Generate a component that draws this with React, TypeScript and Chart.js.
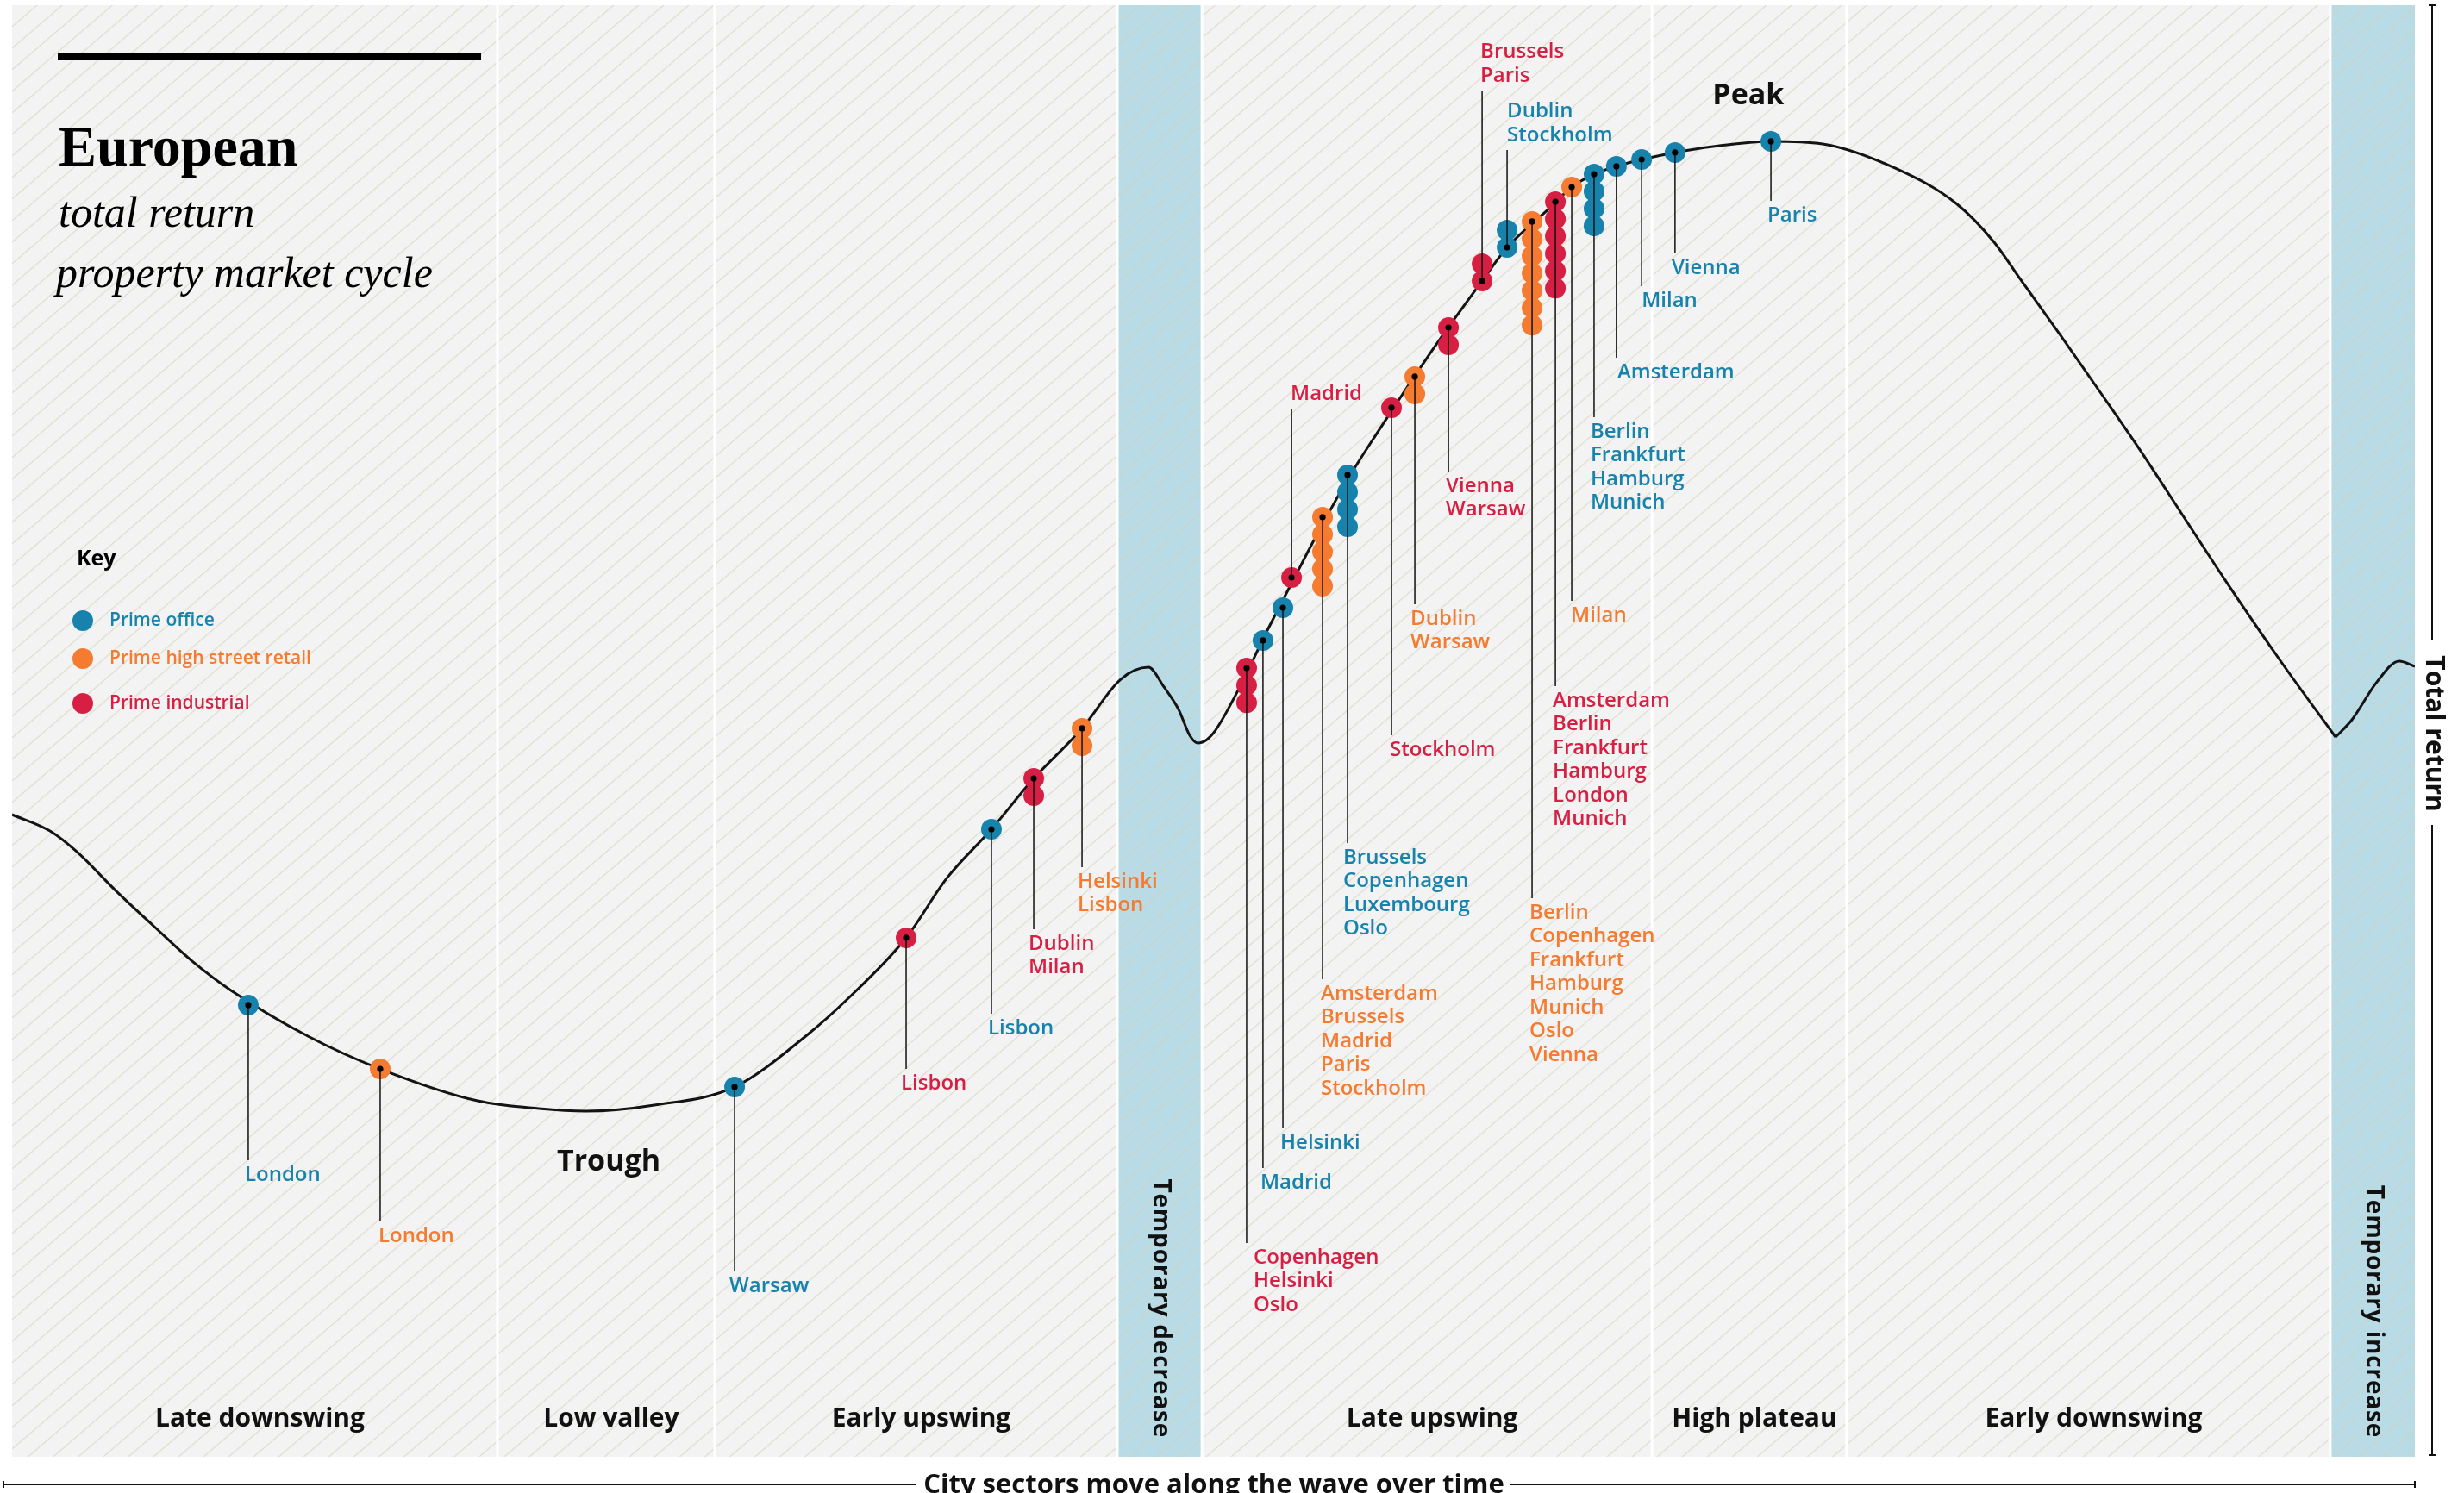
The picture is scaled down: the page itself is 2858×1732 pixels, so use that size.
import React, { useEffect, useRef } from 'react';
import { Chart, registerables } from 'chart.js';

Chart.register(...registerables);

// wave: x = time through the cycle (0-100), y = total return (0-100)
const CURVE_X = [
  0, 1.58, 2.69, 4.31, 5.92, 7.5, 9.11, 12.31, 15.32, 19.38, 21.92, 23.86, 26.73, 30.07, 33.12, 34.73,
  37.21, 38.9, 40.76, 42.52, 44.53, 46.14, 47.29, 47.94, 48.55, 49.01, 49.34, 49.73, 50.09, 51.17, 52.14,
  53.32, 54.5, 55.72, 56.91, 58.09, 59.31, 61.18, 62.22, 64.01, 64.91, 65.84, 66.77, 67.82, 69.21, 70.79,
  73.2, 75.35, 78.44, 80.91, 82.49, 83.53, 85.25, 86.98, 88.73, 90.46, 92.18, 94.44, 96.7,
];
const CURVE_Y = [
  44.24, 43.11, 41.69, 39.01, 36.52, 34.14, 32.13, 28.98, 26.72, 24.52, 23.99, 23.81, 24.23, 25.48, 29.1, 31.47,
  35.75, 39.85, 43.23, 46.73, 50.18, 53.56, 54.39, 53.03, 51.48, 49.7, 49.17, 49.41, 50.06, 53.27, 56.59,
  60.39, 64.13, 67.7, 70.78, 73.75, 76.72, 81.0, 83.31, 86.05, 87.47, 88.36, 88.9, 89.37, 89.85, 90.26,
  90.62, 90.44, 88.72, 86.34, 83.67, 81.24, 77.26, 73.16, 68.94, 64.55, 60.21, 54.75, 49.58,
];
// the temporary increase after the sharp turn at the end of the downswing
const TAIL_X = [96.7, 97.38, 98.42, 99.35, 100];
const TAIL_Y = [49.58, 50.77, 53.38, 54.81, 54.45];

const PHASES = [
  'Late downswing', 'Low valley', 'Early upswing', 'Temporary decrease',
  'Late upswing', 'High plateau', 'Early downswing', 'Temporary increase',
];
const PHASE_EDGES = [0, 20.2, 29.24, 46.0, 49.52, 68.25, 76.35, 96.48, 100];
const TEMPORARY = [false, false, false, true, false, false, false, true];

const MARKERS = ['Trough', 'Peak'];
const MARKER_X = [24.83, 72.26];
const MARKER_Y = [20.31, 93.76];

const SECTORS = ['Prime office', 'Prime high street retail', 'Prime industrial'];

const OFFICE_X = [9.83, 30.07, 40.76, 52.06, 52.89, 55.58, 62.22, 65.84, 66.77, 67.82, 69.21, 73.2];
const OFFICE_Y = [31.12, 25.48, 43.23, 56.24, 58.49, 67.64, 83.31, 88.36, 88.9, 89.37, 89.85, 90.62];
const OFFICE_CITIES = [
  ['London'], ['Warsaw'], ['Lisbon'], ['Madrid'], ['Helsinki'],
  ['Brussels', 'Copenhagen', 'Luxembourg', 'Oslo'], ['Dublin', 'Stockholm'],
  ['Berlin', 'Frankfurt', 'Hamburg', 'Munich'], ['Amsterdam'], ['Milan'], ['Vienna'], ['Paris'],
];

const RETAIL_X = [15.32, 44.53, 54.54, 58.38, 63.26, 64.91];
const RETAIL_Y = [26.72, 50.18, 64.73, 74.41, 85.1, 87.47];
const RETAIL_CITIES = [
  ['London'], ['Helsinki', 'Lisbon'], ['Amsterdam', 'Brussels', 'Madrid', 'Paris', 'Stockholm'],
  ['Dublin', 'Warsaw'], ['Berlin', 'Copenhagen', 'Frankfurt', 'Hamburg', 'Munich', 'Oslo', 'Vienna'], ['Milan'],
];

const INDUSTRIAL_X = [37.21, 42.52, 51.38, 53.25, 57.41, 59.78, 61.18, 64.23];
const INDUSTRIAL_Y = [35.75, 46.73, 54.33, 60.57, 72.27, 77.79, 81.0, 86.46];
const INDUSTRIAL_CITIES = [
  ['Lisbon'], ['Dublin', 'Milan'], ['Copenhagen', 'Helsinki', 'Oslo'], ['Madrid'], ['Stockholm'],
  ['Vienna', 'Warsaw'], ['Brussels', 'Paris'], ['Amsterdam', 'Berlin', 'Frankfurt', 'Hamburg', 'London', 'Munich'],
];

// label layout: leader length in px (negative = label above), text x shift in px
const OFFICE_LEADER = [180, 214, 214, 612, 604, 427, -113, 282, 222, 147, 117, 69];
const OFFICE_DX = [-4, -6, -4, -3, -3, -5, 0, -4, 1, 0, -4, -4];
const RETAIL_LEADER = [177, 161, 536, 264, 785, 480];
const RETAIL_DX = [-2, -5, -2, -5, -3, -1];
const INDUSTRIAL_LEADER = [152, 175, 667, -196, 380, 167, -221, 562];
const INDUSTRIAL_DX = [-6, -6, 8, -1, -2, -3, -2, -3];

const COLORS = ['#1783ad', '#f47b30', '#d71f43'];
const STACK_STEP = 1.19;
const FONT = '"Open Sans", "DejaVu Sans", sans-serif';
const SERIF = '"Liberation Serif", "DejaVu Serif", serif';

const GROUPS = [
  { xs: OFFICE_X, ys: OFFICE_Y, cities: OFFICE_CITIES, lead: OFFICE_LEADER, dx: OFFICE_DX },
  { xs: RETAIL_X, ys: RETAIL_Y, cities: RETAIL_CITIES, lead: RETAIL_LEADER, dx: RETAIL_DX },
  { xs: INDUSTRIAL_X, ys: INDUSTRIAL_Y, cities: INDUSTRIAL_CITIES, lead: INDUSTRIAL_LEADER, dx: INDUSTRIAL_DX },
];

const stackPoints = (g: typeof GROUPS[number]) =>
  g.xs.flatMap((x, i) =>
    g.cities[i].map((_, k) => ({ x, y: g.ys[i] - Math.sign(g.lead[i]) * k * STACK_STEP }))
  );

const cyclePlugin = {
  id: 'cycle',
  beforeDraw(chart: any) {
    const { ctx, chartArea: a, scales } = chart;
    const sx = scales.x;
    const sy = scales.y;
    ctx.save();
    ctx.fillStyle = '#ffffff';
    ctx.fillRect(0, 0, chart.width, chart.height);
    ctx.fillStyle = '#f3f3f3';
    ctx.fillRect(a.left, a.top, a.right - a.left, a.bottom - a.top);

    PHASES.forEach((_, i) => {
      if (!TEMPORARY[i]) return;
      const x0 = sx.getPixelForValue(PHASE_EDGES[i]);
      const x1 = sx.getPixelForValue(PHASE_EDGES[i + 1]);
      ctx.fillStyle = '#b8dbe6';
      ctx.fillRect(x0, a.top, x1 - x0, a.bottom - a.top);
    });

    // diagonal hatching
    ctx.save();
    ctx.beginPath();
    ctx.rect(a.left, a.top, a.right - a.left, a.bottom - a.top);
    ctx.clip();
    ctx.strokeStyle = 'rgba(214, 207, 184, 0.55)';
    ctx.lineWidth = 1.4;
    const w = a.right - a.left;
    const slope = 0.86;
    for (let c = a.top; c < a.bottom + w * slope; c += 25) {
      ctx.beginPath();
      ctx.moveTo(a.left, c);
      ctx.lineTo(a.right, c - w * slope);
      ctx.stroke();
    }
    ctx.restore();

    ctx.strokeStyle = '#ffffff';
    ctx.lineWidth = 3;
    for (let i = 1; i < PHASE_EDGES.length - 1; i++) {
      const x = sx.getPixelForValue(PHASE_EDGES[i]);
      ctx.beginPath();
      ctx.moveTo(x, a.top);
      ctx.lineTo(x, a.bottom);
      ctx.stroke();
    }

    // phase names
    ctx.fillStyle = '#111';
    PHASES.forEach((p, i) => {
      const x0 = sx.getPixelForValue(PHASE_EDGES[i]);
      const x1 = sx.getPixelForValue(PHASE_EDGES[i + 1]);
      if (TEMPORARY[i]) {
        ctx.save();
        ctx.translate((x0 + x1) / 2 + 1, a.bottom - 22);
        ctx.rotate(Math.PI / 2);
        ctx.font = `700 28px ${FONT}`;
        ctx.letterSpacing = '0.8px';
        ctx.textAlign = 'right';
        ctx.textBaseline = 'middle';
        ctx.fillText(p, 0, 0);
        ctx.restore();
      } else {
        ctx.font = `700 30px ${FONT}`;
        ctx.textAlign = 'center';
        ctx.textBaseline = 'middle';
        ctx.fillText(p, (x0 + x1) / 2 + 6, a.bottom - 44);
      }
    });

    ctx.font = `700 34px ${FONT}`;
    ctx.textAlign = 'center';
    ctx.textBaseline = 'middle';
    MARKERS.forEach((m, i) => {
      ctx.fillText(m, sx.getPixelForValue(MARKER_X[i]), sy.getPixelForValue(MARKER_Y[i]));
    });
    ctx.restore();
  },
  afterDatasetsDraw(chart: any) {
    const { ctx, scales } = chart;
    const sx = scales.x;
    const sy = scales.y;
    ctx.save();
    GROUPS.forEach((g, s) => {
      g.xs.forEach((xv, i) => {
        const px = sx.getPixelForValue(xv);
        const py = sy.getPixelForValue(g.ys[i]);
        const len = g.lead[i];
        const end = py + len;
        ctx.strokeStyle = '#111';
        ctx.lineWidth = 1.5;
        ctx.beginPath();
        ctx.moveTo(px, py);
        ctx.lineTo(px, end);
        ctx.stroke();
        ctx.fillStyle = '#000';
        ctx.beginPath();
        ctx.arc(px, py, 3.6, 0, Math.PI * 2);
        ctx.fill();

        const names = g.cities[i];
        ctx.fillStyle = COLORS[s];
        ctx.font = `600 24px ${FONT}`;
        ctx.textAlign = 'left';
        ctx.textBaseline = 'middle';
        names.forEach((n, k) => {
          const ty = len > 0 ? end + 17 + k * 27.5 : end - 17 - (names.length - 1 - k) * 27.5;
          ctx.fillText(n, px + g.dx[i], ty);
        });
      });
    });
    ctx.restore();
  },
  afterDraw(chart: any) {
    const { ctx, chartArea: a } = chart;
    ctx.save();
    // title block
    ctx.fillStyle = '#000';
    ctx.fillRect(67, 62, 491, 8);
    ctx.textAlign = 'left';
    ctx.textBaseline = 'alphabetic';
    ctx.font = `700 66px ${SERIF}`;
    ctx.fillText('European', 68, 192);
    ctx.font = `italic 400 50px ${SERIF}`;
    ctx.fillText('total return', 68, 263);
    ctx.fillText('property market cycle', 65, 333);

    // key
    ctx.font = `700 25px ${FONT}`;
    ctx.textBaseline = 'middle';
    ctx.fillText('Key', 89, 649);
    const keyY = [720, 764, 816];
    SECTORS.forEach((s, i) => {
      ctx.fillStyle = COLORS[i];
      ctx.beginPath();
      ctx.arc(96, keyY[i], 12, 0, Math.PI * 2);
      ctx.fill();
      ctx.font = `600 21px ${FONT}`;
      ctx.fillText(s, 127, keyY[i]);
    });

    // right axis: total return
    ctx.strokeStyle = '#111';
    ctx.fillStyle = '#111';
    ctx.lineWidth = 2;
    const ax = 2821;
    ctx.beginPath();
    ctx.moveTo(ax, a.top);
    ctx.lineTo(ax, 743);
    ctx.moveTo(ax, 957);
    ctx.lineTo(ax, a.bottom - 2);
    ctx.moveTo(ax - 4, a.top);
    ctx.lineTo(ax + 4, a.top);
    ctx.moveTo(ax - 4, a.bottom - 2);
    ctx.lineTo(ax + 4, a.bottom - 2);
    ctx.stroke();
    ctx.save();
    ctx.translate(ax + 2, 851);
    ctx.rotate(Math.PI / 2);
    ctx.font = `700 30px ${FONT}`;
    ctx.textAlign = 'center';
    ctx.textBaseline = 'middle';
    ctx.fillText('Total return', 0, 0);
    ctx.restore();

    // bottom axis: time
    const by = 1722;
    ctx.beginPath();
    ctx.moveTo(4, by);
    ctx.lineTo(1063, by);
    ctx.moveTo(1752, by);
    ctx.lineTo(a.right, by);
    ctx.moveTo(4, by - 4);
    ctx.lineTo(4, by + 4);
    ctx.moveTo(a.right, by - 4);
    ctx.lineTo(a.right, by + 4);
    ctx.stroke();
    ctx.font = `700 31px ${FONT}`;
    ctx.textAlign = 'center';
    ctx.textBaseline = 'alphabetic';
    ctx.fillText('City sectors move along the wave over time', 1408, 1732);
    ctx.restore();
  },
};

const curveStyle = {
  showLine: true,
  borderColor: '#141414',
  borderWidth: 3,
  pointRadius: 0,
  cubicInterpolationMode: 'monotone',
  fill: false,
  order: 5,
};

export default function App() {
  const canvasRef = useRef<HTMLCanvasElement>(null);
  const chartRef = useRef<Chart | null>(null);

  useEffect(() => {
    if (!canvasRef.current) return;
    if (chartRef.current) chartRef.current.destroy();

    const datasets: any[] = GROUPS.map((g, s) => ({
      label: SECTORS[s],
      data: stackPoints(g),
      pointRadius: 12,
      pointHoverRadius: 12,
      pointBackgroundColor: COLORS[s],
      pointBorderWidth: 0,
      showLine: false,
      order: 1,
    }));
    datasets.push({
      label: 'Total return',
      data: CURVE_X.map((x, i) => ({ x, y: CURVE_Y[i] })),
      ...curveStyle,
    });
    datasets.push({
      label: 'Total return (temporary increase)',
      data: TAIL_X.map((x, i) => ({ x, y: TAIL_Y[i] })),
      ...curveStyle,
    });

    chartRef.current = new Chart(canvasRef.current, {
      type: 'scatter',
      data: { datasets },
      options: {
        animation: false,
        responsive: true,
        maintainAspectRatio: false,
        events: [],
        layout: { autoPadding: false, padding: { left: 14, right: 57, top: 6, bottom: 42 } },
        plugins: { legend: { display: false }, tooltip: { enabled: false } },
        scales: {
          x: { type: 'linear', min: 0, max: 100, display: false },
          y: { type: 'linear', min: 0, max: 100, display: false },
        },
      },
      plugins: [cyclePlugin],
    });

    return () => chartRef.current?.destroy();
  }, []);

  return (
    <div style={{ position: 'fixed', left: 0, top: 0, width: 2858, height: 1732, background: '#fff' }}>
      <canvas ref={canvasRef} />
    </div>
  );
}
